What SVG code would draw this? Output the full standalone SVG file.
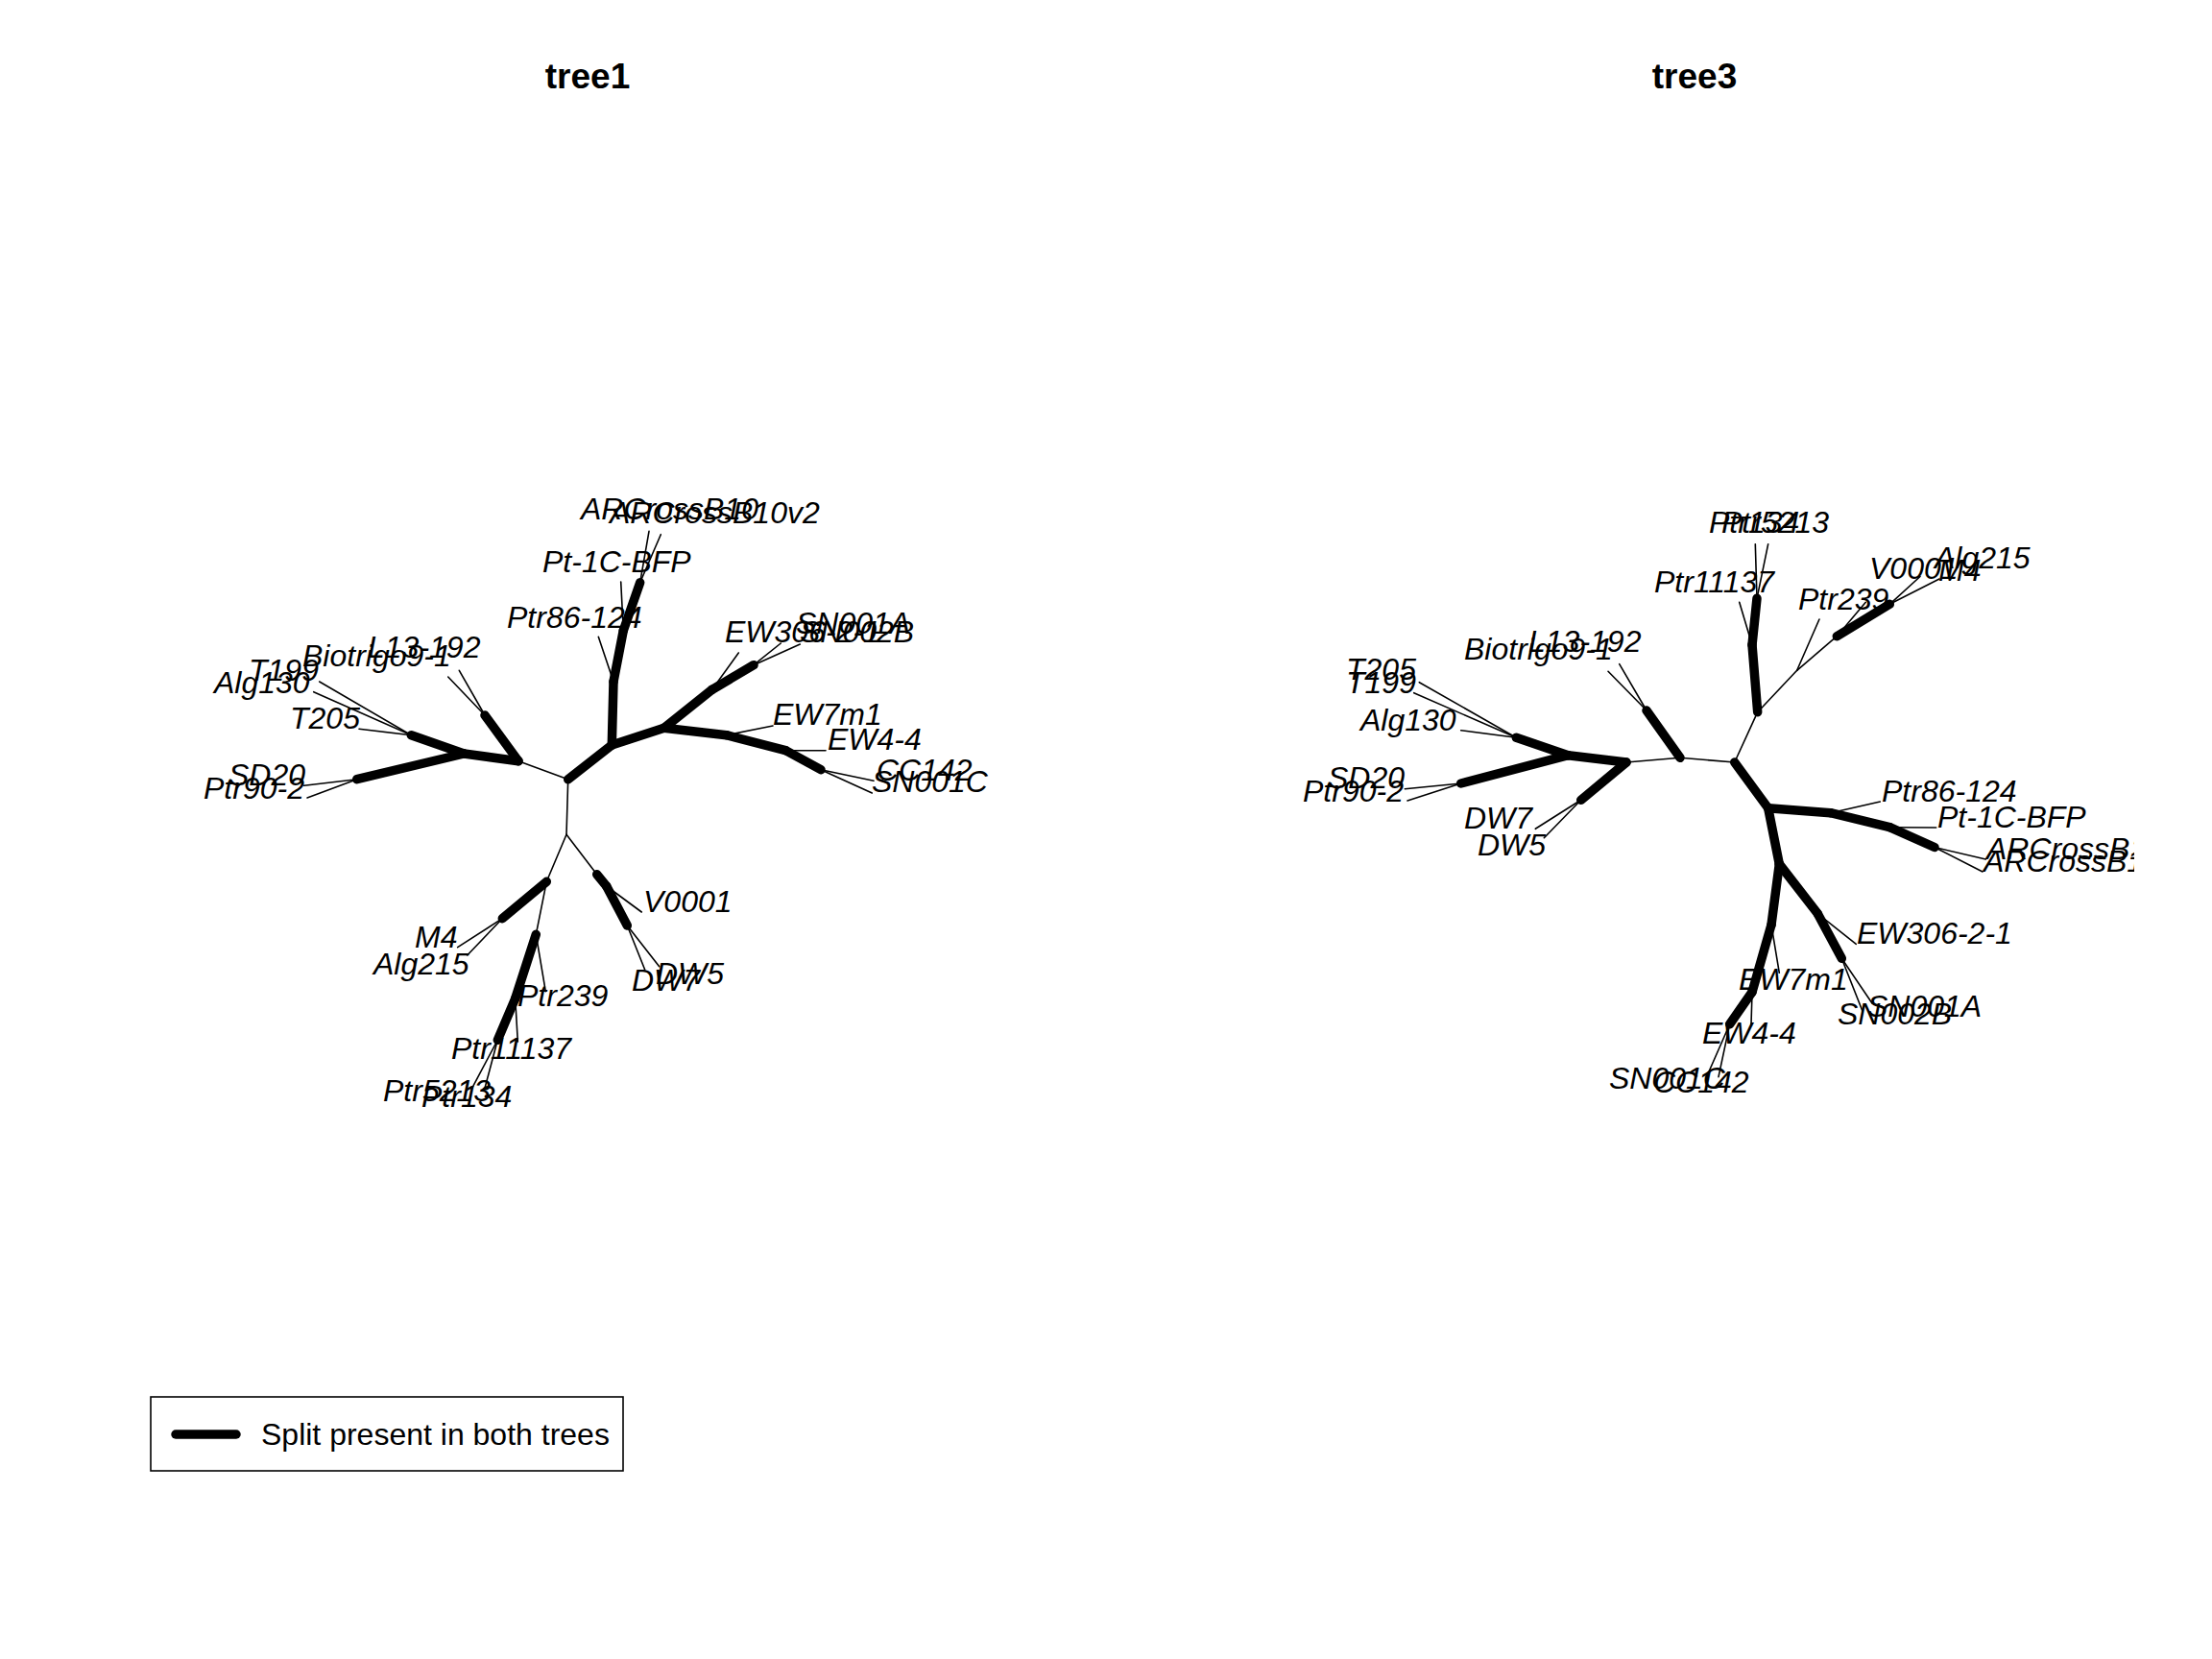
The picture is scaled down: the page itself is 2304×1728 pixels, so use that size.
<svg xmlns="http://www.w3.org/2000/svg" width="2304" height="1728" viewBox="0 0 2304 1728">
<style>
.thin{stroke:#000;stroke-width:1.6;stroke-linecap:round;fill:none}
.thick{stroke:#000;stroke-width:9.5;stroke-linecap:round;fill:none}
.lab{font-family:"Liberation Sans",Arial,sans-serif;font-style:italic;font-size:32px;fill:#000}
.title{font-family:"Liberation Sans",Arial,sans-serif;font-weight:bold;font-size:37px;fill:#000;text-anchor:middle}
.leg{font-family:"Liberation Sans",Arial,sans-serif;font-size:32px;fill:#000}
</style>
<defs>
<clipPath id="clip3"><rect x="1180" y="0" width="1043" height="1728"/></clipPath>
</defs>
<rect x="0" y="0" width="2304" height="1728" fill="#fff"/>
<text class="title" x="612" y="92">tree1</text>
<text class="title" x="1765" y="92">tree3</text>

<g id="connectors-tree1">
<g class="thin">
<line x1="591.7" y1="811.7" x2="540" y2="792.7"/>
<line x1="505" y1="745" x2="478.3" y2="698.3"/>
<line x1="505" y1="745" x2="466.7" y2="705"/>
<line x1="428.3" y1="765.7" x2="332.7" y2="710"/>
<line x1="428.3" y1="765.7" x2="326.7" y2="720.7"/>
<line x1="428.3" y1="765.7" x2="374" y2="759.3"/>
<line x1="371.7" y1="811.7" x2="316.7" y2="818.3"/>
<line x1="371.7" y1="811.7" x2="320" y2="831"/>
<line x1="639" y1="710" x2="623.3" y2="663.3"/>
<line x1="649.3" y1="656.7" x2="646.7" y2="606"/>
<line x1="666.7" y1="606.7" x2="676" y2="553.3"/>
<line x1="666.7" y1="606.7" x2="688.3" y2="556.7"/>
<line x1="741.7" y1="718.3" x2="769.3" y2="680"/>
<line x1="785" y1="692.7" x2="813.3" y2="670"/>
<line x1="785" y1="692.7" x2="833.3" y2="671"/>
<line x1="756.7" y1="765.7" x2="805" y2="756"/>
<line x1="818.3" y1="781.7" x2="860" y2="781.7"/>
<line x1="855" y1="801.7" x2="910" y2="813.3"/>
<line x1="855" y1="801.7" x2="908.3" y2="826"/>
<line x1="591.7" y1="811.7" x2="590" y2="869.3"/>
<line x1="590" y1="869.3" x2="569.3" y2="918.3"/>
<line x1="590" y1="869.3" x2="621.7" y2="910.7"/>
<line x1="631.7" y1="923" x2="668.3" y2="950"/>
<line x1="653.3" y1="964" x2="686.7" y2="1006.7"/>
<line x1="653.3" y1="964" x2="671.7" y2="1010"/>
<line x1="523.3" y1="956.7" x2="476.7" y2="986.7"/>
<line x1="523.3" y1="956.7" x2="486.7" y2="995"/>
<line x1="569.3" y1="918.3" x2="558.3" y2="973.3"/>
<line x1="558.3" y1="973.3" x2="568.3" y2="1032.7"/>
<line x1="536.7" y1="1040" x2="539.3" y2="1085"/>
<line x1="518.3" y1="1083.3" x2="491.7" y2="1133.3"/>
<line x1="518.3" y1="1083.3" x2="505" y2="1133.3"/>
</g>
<g class="thick">
<line x1="540" y1="792.7" x2="483.3" y2="785"/>
<line x1="540" y1="792.7" x2="505" y2="745"/>
<line x1="483.3" y1="785" x2="428.3" y2="765.7"/>
<line x1="483.3" y1="785" x2="371.7" y2="811.7"/>
<line x1="591.7" y1="811.7" x2="637.3" y2="776"/>
<line x1="637.3" y1="776" x2="639" y2="710"/>
<line x1="639" y1="710" x2="649.3" y2="656.7"/>
<line x1="649.3" y1="656.7" x2="666.7" y2="606.7"/>
<line x1="637.3" y1="776" x2="691.7" y2="758.3"/>
<line x1="691.7" y1="758.3" x2="741.7" y2="718.3"/>
<line x1="741.7" y1="718.3" x2="785" y2="692.7"/>
<line x1="691.7" y1="758.3" x2="756.7" y2="765.7"/>
<line x1="756.7" y1="765.7" x2="818.3" y2="781.7"/>
<line x1="818.3" y1="781.7" x2="855" y2="801.7"/>
<line x1="621.7" y1="910.7" x2="631.7" y2="923"/>
<line x1="631.7" y1="923" x2="653.3" y2="964"/>
<line x1="569.3" y1="918.3" x2="523.3" y2="956.7"/>
<line x1="558.3" y1="973.3" x2="536.7" y2="1040"/>
<line x1="536.7" y1="1040" x2="518.3" y2="1083.3"/>
</g>
</g>

<g id="connectors-tree3">
<g class="thin">
<line x1="1806.7" y1="794" x2="1750" y2="789.3"/>
<line x1="1715" y1="740" x2="1686.7" y2="691.7"/>
<line x1="1715" y1="740" x2="1675" y2="699.3"/>
<line x1="1750" y1="789.3" x2="1694" y2="794"/>
<line x1="1646.7" y1="833.3" x2="1599.3" y2="863.3"/>
<line x1="1646.7" y1="833.3" x2="1608.3" y2="872.7"/>
<line x1="1579.3" y1="768.3" x2="1478.3" y2="710.7"/>
<line x1="1579.3" y1="768.3" x2="1472.7" y2="721.7"/>
<line x1="1579.3" y1="768.3" x2="1521.7" y2="760.7"/>
<line x1="1521.7" y1="816" x2="1463.3" y2="821.7"/>
<line x1="1521.7" y1="816" x2="1466" y2="834"/>
<line x1="1806.7" y1="794" x2="1830.7" y2="741.7"/>
<line x1="1825" y1="671.7" x2="1811.7" y2="627.3"/>
<line x1="1830" y1="623.3" x2="1828.3" y2="566.7"/>
<line x1="1830" y1="623.3" x2="1841.7" y2="566.7"/>
<line x1="1830.7" y1="741.7" x2="1871.7" y2="698.3"/>
<line x1="1871.7" y1="698.3" x2="1895" y2="645"/>
<line x1="1871.7" y1="698.3" x2="1913.3" y2="662.7"/>
<line x1="1913.3" y1="662.7" x2="1943.3" y2="627.3"/>
<line x1="1968.3" y1="629.3" x2="2000" y2="600.5"/>
<line x1="1968.3" y1="629.3" x2="2020" y2="603"/>
<line x1="1906.7" y1="846.7" x2="1958.3" y2="835"/>
<line x1="1968.3" y1="861.7" x2="2016.7" y2="862"/>
<line x1="2015" y1="882.5" x2="2068.3" y2="895"/>
<line x1="2015" y1="882.5" x2="2065" y2="908"/>
<line x1="1845" y1="963.3" x2="1853.3" y2="1013.3"/>
<line x1="1825" y1="1033.3" x2="1824" y2="1066.7"/>
<line x1="1801.7" y1="1066.7" x2="1778.3" y2="1120"/>
<line x1="1801.7" y1="1066.7" x2="1790" y2="1121.7"/>
<line x1="1893.3" y1="951.7" x2="1933.3" y2="983.3"/>
<line x1="1918.3" y1="998.3" x2="1950" y2="1045"/>
<line x1="1918.3" y1="998.3" x2="1940" y2="1053.3"/>
</g>
<g class="thick">
<line x1="1750" y1="789.3" x2="1715" y2="740"/>
<line x1="1694" y1="794" x2="1633.3" y2="786.7"/>
<line x1="1694" y1="794" x2="1646.7" y2="833.3"/>
<line x1="1633.3" y1="786.7" x2="1579.3" y2="768.3"/>
<line x1="1633.3" y1="786.7" x2="1521.7" y2="816"/>
<line x1="1830.7" y1="741.7" x2="1825" y2="671.7"/>
<line x1="1825" y1="671.7" x2="1830" y2="623.3"/>
<line x1="1913.3" y1="662.7" x2="1968.3" y2="629.3"/>
<line x1="1806.7" y1="794" x2="1841.7" y2="841.7"/>
<line x1="1841.7" y1="841.7" x2="1906.7" y2="846.7"/>
<line x1="1906.7" y1="846.7" x2="1968.3" y2="861.7"/>
<line x1="1968.3" y1="861.7" x2="2015" y2="882.5"/>
<line x1="1841.7" y1="841.7" x2="1853.3" y2="900"/>
<line x1="1853.3" y1="900" x2="1845" y2="963.3"/>
<line x1="1845" y1="963.3" x2="1825" y2="1033.3"/>
<line x1="1825" y1="1033.3" x2="1801.7" y2="1066.7"/>
<line x1="1853.3" y1="900" x2="1893.3" y2="951.7"/>
<line x1="1893.3" y1="951.7" x2="1918.3" y2="998.3"/>
</g>
</g>

<g id="tree1-tips" class="lab">
<g id="t1-ARCrossB10"><text x="605" y="541">ARCrossB10</text></g>
<g id="t1-ARCrossB10v2"><text x="635" y="545">ARCrossB10v2</text></g>
<g id="t1-Pt-1C-BFP"><text x="565" y="596">Pt-1C-BFP</text></g>
<g id="t1-Ptr86-124"><text x="528" y="654">Ptr86-124</text></g>
<g id="t1-L13-192"><text x="383" y="685">L13-192</text></g>
<g id="t1-Biotrigo9-1"><text x="315" y="694">Biotrigo9-1</text></g>
<g id="t1-T199"><text x="259" y="709">T199</text></g>
<g id="t1-Alg130"><text x="223" y="722">Alg130</text></g>
<g id="t1-T205"><text x="302" y="759">T205</text></g>
<g id="t1-SD20"><text x="238" y="818">SD20</text></g>
<g id="t1-Ptr90-2"><text x="212" y="832">Ptr90-2</text></g>
<g id="t1-SN001A"><text x="829" y="660">SN001A</text></g>
<g id="t1-EW306-2-1"><text x="755" y="669">EW306-2-1</text></g>
<g id="t1-SN002B"><text x="833" y="669">SN002B</text></g>
<g id="t1-EW7m1"><text x="805" y="755">EW7m1</text></g>
<g id="t1-EW4-4"><text x="862" y="781">EW4-4</text></g>
<g id="t1-CC142"><text x="913" y="813">CC142</text></g>
<g id="t1-SN001C"><text x="908" y="825">SN001C</text></g>
<g id="t1-V0001"><text x="670" y="950">V0001</text></g>
<g id="t1-DW5"><text x="683" y="1025">DW5</text></g>
<g id="t1-DW7"><text x="658" y="1032">DW7</text></g>
<g id="t1-M4"><text x="432" y="987">M4</text></g>
<g id="t1-Alg215"><text x="389" y="1015">Alg215</text></g>
<g id="t1-Ptr239"><text x="539" y="1048">Ptr239</text></g>
<g id="t1-Ptr11137"><text x="470" y="1103">Ptr11137</text></g>
<g id="t1-Ptr5213"><text x="399" y="1147">Ptr5213</text></g>
<g id="t1-Ptr134"><text x="439" y="1153">Ptr134</text></g>
</g>

<g id="tree3-tips" class="lab" clip-path="url(#clip3)">
<g id="t3-Ptr134"><text x="1780" y="555">Ptr134</text></g>
<g id="t3-Ptr5213"><text x="1793" y="555">Ptr5213</text></g>
<g id="t3-Ptr11137"><text x="1723" y="617">Ptr11137</text></g>
<g id="t3-Ptr239"><text x="1873" y="635">Ptr239</text></g>
<g id="t3-V0001"><text x="1947" y="603">V0001</text></g>
<g id="t3-Alg215"><text x="2015" y="592">Alg215</text></g>
<g id="t3-M4"><text x="2019" y="605">M4</text></g>
<g id="t3-T205"><text x="1402" y="708">T205</text></g>
<g id="t3-T199"><text x="1402" y="722">T199</text></g>
<g id="t3-Alg130"><text x="1417" y="761">Alg130</text></g>
<g id="t3-Biotrigo9-1"><text x="1525" y="687">Biotrigo9-1</text></g>
<g id="t3-L13-192"><text x="1592" y="679">L13-192</text></g>
<g id="t3-SD20"><text x="1383" y="821">SD20</text></g>
<g id="t3-Ptr90-2"><text x="1357" y="835">Ptr90-2</text></g>
<g id="t3-DW7"><text x="1525" y="863">DW7</text></g>
<g id="t3-DW5"><text x="1539" y="891">DW5</text></g>
<g id="t3-Ptr86-124"><text x="1960" y="835">Ptr86-124</text></g>
<g id="t3-Pt-1C-BFP"><text x="2018" y="862">Pt-1C-BFP</text></g>
<g id="t3-ARCrossB10"><text x="2069" y="895">ARCrossB10</text></g>
<g id="t3-ARCrossB10v2"><text x="2066" y="908">ARCrossB10v2</text></g>
<g id="t3-EW306-2-1"><text x="1934" y="983">EW306-2-1</text></g>
<g id="t3-EW7m1"><text x="1811" y="1031">EW7m1</text></g>
<g id="t3-SN001A"><text x="1945" y="1059">SN001A</text></g>
<g id="t3-SN002B"><text x="1914" y="1067">SN002B</text></g>
<g id="t3-EW4-4"><text x="1773" y="1087">EW4-4</text></g>
<g id="t3-SN001C"><text x="1676" y="1134">SN001C</text></g>
<g id="t3-CC142"><text x="1722" y="1138">CC142</text></g>
</g>

<g id="legend">
<rect x="157" y="1455" width="492" height="77" fill="none" stroke="#000" stroke-width="1.6"/>
<line class="thick" x1="183" y1="1494" x2="246" y2="1494"/>
<text class="leg" x="272" y="1505">Split present in both trees</text>
</g>
</svg>
